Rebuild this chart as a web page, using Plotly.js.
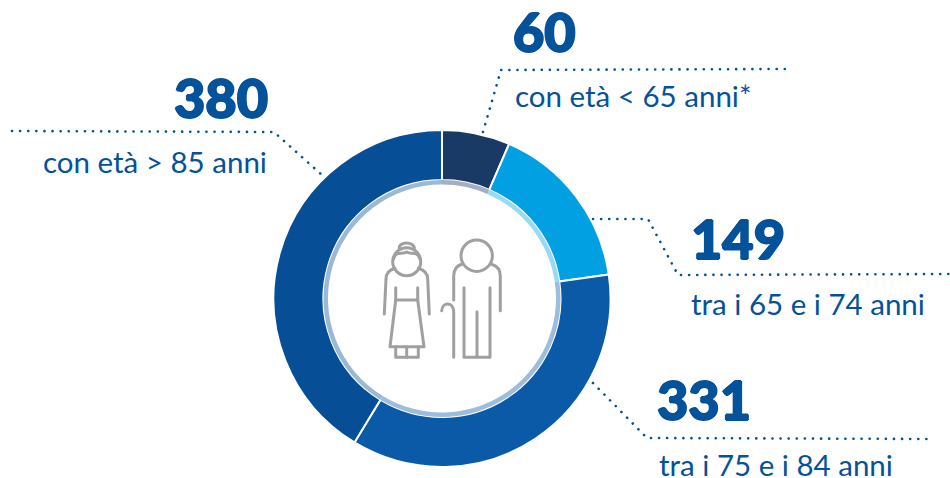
<!DOCTYPE html>
<html><head><meta charset="utf-8">
<script src="https://cdn.plot.ly/plotly-3.0.1.min.js"></script>
<style>html,body{margin:0;padding:0;background:#fff}#c{width:950px;height:478px}</style>
</head><body><div id="c"></div>
<script>
const categories = ["con età < 65 anni*", "tra i 65 e i 74 anni", "tra i 75 e i 84 anni", "con età > 85 anni"];
const values = [60, 149, 331, 380];
const sliceColors = ["#1a3a66", "#00a0e3", "#0b5aa8", "#064f96"];
const ringColors = ["#a3afc2", "#99d9f4", "#9dbddc", "#9bb9d5"];
const W = 950, H = 478, textBlue = "#04529a", iconGrey = "#a0a0a0";
const cx = 442, cy = 298.5, R = 168.5, Ri = 118.5, Rh = 114;
const px = x => x / W, py = y => 1 - y / H;
const dom = r => ({x: [px(cx - r), px(cx + r)], y: [py(cy + r), py(cy - r)]});

const leaders = [
  [[483,132],[501,70],[786,69]],
  [[593,219],[648,219],[678,275],[950,274]],
  [[593,383],[647,438],[927,439]],
  [[12,131],[274,132],[322,175]]
];
const bigLabels = [
  {x:512, y:32, a:"left"}, {x:690, y:238, a:"left"},
  {x:656, y:399, a:"left"}, {x:269, y:97, a:"right"}
];
const smallLabels = [
  {x:514, y:96, a:"left"}, {x:690, y:303, a:"left"},
  {x:658, y:464, a:"left"}, {x:268, y:162, a:"right"}
];
const iconPaths = [
  "M399.3 249 C398 241 415 241 414.3 249",
  "M393.5 259 C396 250 402 255 406.7 252 C411 255 417 250 420 259",
  "M395 268.3 C389 270 386 273 386 279 L384.3 314",
  "M418.3 268.3 C424 270 427.7 273 427.7 279 L429.3 314",
  "M395.7 287.7 L395.7 300 L390 346.7 L424 346.7 L417.7 300 L417.7 287.7",
  "M395.7 300 L417.7 300",
  "M395.7 346.7 L395.7 357.3 L418.3 357.3 L418.3 346.7",
  "M406.7 346.7 L406.7 357.3",
  "M461.7 264.3 C456 266 453.7 270 453.7 276 L453.7 300",
  "M491.7 264.3 C497 266 500.3 270 500.3 276 L500.3 310.7",
  "M464 287.7 L464 357.3 L490 357.3 L490 287.7",
  "M477 311.7 L477 356.7",
  "M441.7 310.7 C442 302 453.7 301 453.7 312 L453.7 357.3"
];
const iconCircles = [[406.7,261.7,14],[476.7,255.7,15.7]];

const pathToPaper = d => d.replace(/(-?[\d.]+) (-?[\d.]+)/g, (m,a,b) => px(+a).toFixed(5)+" "+py(+b).toFixed(5));
const shapes = [];
leaders.forEach(pts => shapes.push({type:"path", xref:"paper", yref:"paper",
  path:"M"+pts.map(p=>px(p[0]).toFixed(5)+" "+py(p[1]).toFixed(5)).join(" L"),
  line:{color:textBlue, width:2.6, dash:"0.1px,8px"}}));
iconPaths.forEach(d => shapes.push({type:"path", xref:"paper", yref:"paper", path:pathToPaper(d),
  line:{color:iconGrey, width:3}}));
iconCircles.forEach(c => shapes.push({type:"circle", xref:"paper", yref:"paper",
  x0:px(c[0]-c[2]), x1:px(c[0]+c[2]), y0:py(c[1]+c[2]), y1:py(c[1]-c[2]),
  line:{color:iconGrey, width:3}, fillcolor:"rgba(0,0,0,0)"}));

const heavy = `1px 0 0 ${textBlue}, -1px 0 0 ${textBlue}, 0 1px 0 ${textBlue}, 0 -1px 0 ${textBlue}`;
const annotations = [];
values.forEach((v,i) => {
  const b = bigLabels[i], s = smallLabels[i];
  annotations.push({xref:"paper", yref:"paper", x:px(b.x), y:py(b.y), xanchor:b.a, yanchor:"middle",
    showarrow:false, text:String(v), borderpad:0, font:{family:"Lato", size:54, weight:900, color:textBlue, shadow:heavy}});
  annotations.push({xref:"paper", yref:"paper", x:px(s.x), y:py(s.y), xanchor:s.a, yanchor:"middle",
    showarrow:false, text:categories[i], borderpad:0, font:{family:"Lato", size:29.5, color:textBlue}});
});

const pieBase = {type:"pie", values, labels:categories, sort:false, direction:"clockwise", rotation:0,
  textinfo:"none", hoverinfo:"label+value", showlegend:false};
const data = [
  Object.assign({}, pieBase, {domain:dom(R), hole:Ri/R, marker:{colors:sliceColors, line:{color:"#fff", width:2}}}),
  Object.assign({}, pieBase, {domain:dom(Ri), hole:Rh/Ri, marker:{colors:ringColors, line:{color:"#fff", width:0}}})
];
const layout = {width:W, height:H, margin:{l:0,r:0,t:0,b:0}, paper_bgcolor:"#fff", showlegend:false, shapes, annotations};
Plotly.newPlot("c", data, layout, {displayModeBar:false, staticPlot:true}).then(() => {
  document.querySelectorAll(".shapelayer path").forEach(p => { p.style.strokeLinecap = "round"; p.style.strokeLinejoin = "round"; });
});
</script></body></html>
